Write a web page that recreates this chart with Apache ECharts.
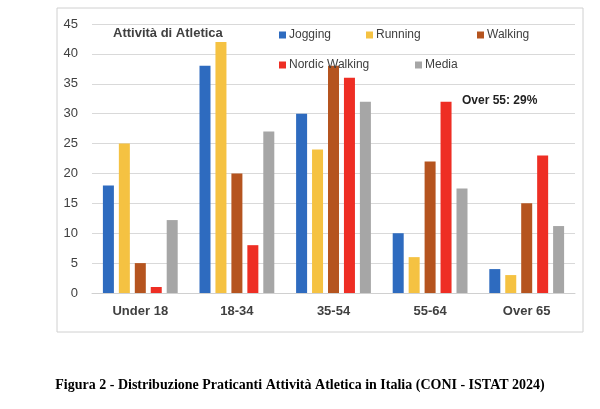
<!DOCTYPE html>
<html><head><meta charset="utf-8">
<script src="https://cdn.jsdelivr.net/npm/echarts@6/dist/echarts.min.js"></script>
<style>html,body{margin:0;background:#fff}#c{width:600px;height:409px}</style>
</head><body><div id="c"></div>
<script>
var categories = ['Under 18', '18-34', '35-54', '55-64', 'Over 65'];
var seriesNames = ['Jogging', 'Running', 'Walking', 'Nordic Walking', 'Media'];
var jogging = [18, 38, 30, 10, 4];
var running = [25, 42, 24, 6, 3];
var walking = [5, 20, 38, 22, 15];
var nordic = [1, 8, 36, 32, 23];
var media = [12.2, 27, 32, 17.5, 11.2];
var colors = ['#2e6bbf', '#f5c242', '#b5541f', '#ee2e24', '#a6a6a6'];
var values = [jogging, running, walking, nordic, media];
var legendPos = [[274, 24], [361, 24], [472, 24], [274, 54], [410, 54]];

var chart = echarts.init(document.getElementById('c'));
chart.setOption({
  animation: false,
  color: colors,
  title: {
    text: 'Attività di Atletica', left: 108, top: 22,
    textStyle: { fontFamily: 'Liberation Sans', fontSize: 13, fontWeight: 'bold', color: '#404040' }
  },
  legend: seriesNames.map(function (n, i) {
    return {
      left: legendPos[i][0], top: legendPos[i][1], itemWidth: 7, itemHeight: 7,
      icon: 'rect', data: [n],
      textStyle: { fontFamily: 'Liberation Sans', fontSize: 12, color: '#404040', padding: [0, 0, 0, -2] }
    };
  }),
  graphic: [
    { type: 'rect', shape: { x: 57, y: 8, width: 526, height: 324 }, style: { fill: 'none', stroke: '#d0d0d0', lineWidth: 1 } },
    { type: 'text', left: 462, top: 95, style: { text: 'Over 55: 29%', font: 'bold 12px Liberation Sans', fill: '#222' } },
    { type: 'text', left: 'center', top: 378, style: { text: 'Figura 2 - Distribuzione Praticanti Attività Atletica in Italia (CONI - ISTAT 2024)', font: 'bold 14px Liberation Serif', fill: '#000' } }
  ],
  grid: { left: 92, right: 25, top: 24, bottom: 116 },
  xAxis: {
    type: 'category', data: categories,
    axisTick: { show: false },
    axisLine: { lineStyle: { color: '#d0d0d0' } },
    axisLabel: { color: '#404040', fontFamily: 'Liberation Sans', fontWeight: 'bold', fontSize: 13, margin: 12 }
  },
  yAxis: {
    type: 'value', min: 0, max: 45, interval: 5,
    axisLabel: { color: '#404040', fontFamily: 'Liberation Sans', fontSize: 13, margin: 14 },
    splitLine: { lineStyle: { color: '#d9d9d9' } }
  },
  series: seriesNames.map(function (n, i) {
    return { name: n, type: 'bar', data: values[i], barWidth: 11, barGap: '45%' };
  })
});
</script></body></html>
